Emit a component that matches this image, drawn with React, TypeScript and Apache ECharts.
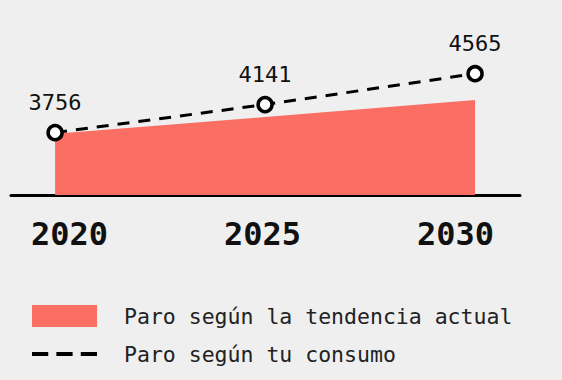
import React, { useEffect, useRef } from "react";
import * as echarts from "echarts";

const years = [2020, 2025, 2030];
const yearLabels = ["2020", "2025", "2030"];
const trendValues = [3740, 3970, 4205];
const consumoValues = [3756, 4141, 4565];
const seriesNames = ["Paro según la tendencia actual", "Paro según tu consumo"];

export default function App() {
  const ref = useRef<HTMLDivElement>(null);
  useEffect(() => {
    if (!ref.current) return;
    const chart = echarts.init(ref.current, null, { renderer: "svg" });
    const mono = "'DejaVu Sans Mono', monospace";
    chart.setOption({
      animation: false,
      backgroundColor: "#efefef",
      grid: [
        { left: 11, right: 42, top: 42, bottom: 185 },
        { left: 69.5, right: 106.5, top: 42, bottom: 185 },
      ],
      xAxis: [
        {
          type: "value",
          gridIndex: 0,
          min: 2018.95,
          max: 2031.07,
          axisLine: { show: true, onZero: false, lineStyle: { color: "#000", width: 3 } },
          axisTick: { show: false },
          axisLabel: { show: false },
          splitLine: { show: false },
        },
        {
          type: "category",
          gridIndex: 1,
          data: yearLabels,
          boundaryGap: false,
          axisLine: { show: false },
          axisTick: { show: false },
          axisLabel: {
            margin: 23,
            fontFamily: mono,
            fontWeight: "bold",
            fontSize: 32,
            color: "#111",
          },
        },
      ],
      yAxis: [
        { type: "value", gridIndex: 0, min: 2900, max: 5000, show: false },
        { type: "value", gridIndex: 1, min: 2900, max: 5000, show: false },
      ],
      legend: {
        orient: "vertical",
        left: 27,
        top: 300,
        itemWidth: 65,
        itemHeight: 22,
        itemGap: 16,
        selectedMode: false,
        textStyle: { fontFamily: mono, fontSize: 21.5, color: "#222", padding: [0, 0, 0, 22] },
        data: [
          { name: seriesNames[0], icon: "rect" },
          {
            name: seriesNames[1],
            icon: "path://M0,9h16v4H0z M24,9h16v4H24z M48,9h16v4H48z",
            itemStyle: { color: "#000", borderWidth: 0 },
            lineStyle: { width: 0, opacity: 0 },
          },
        ],
      },
      series: [
        {
          name: seriesNames[0],
          type: "line",
          xAxisIndex: 0,
          yAxisIndex: 0,
          color: "#fb6e64",
          symbol: "none",
          lineStyle: { width: 0 },
          areaStyle: { color: "#fb6e64", opacity: 1, origin: "start" },
          data: years.map((y, i) => [y, trendValues[i]]),
          z: 1,
        },
        {
          name: seriesNames[1],
          type: "line",
          xAxisIndex: 0,
          yAxisIndex: 0,
          color: "#000",
          symbol: "circle",
          symbolSize: 14,
          itemStyle: { color: "#fff", borderColor: "#000", borderWidth: 3.5 },
          lineStyle: { color: "#000", width: 3, type: [12, 9] },
          label: {
            show: true,
            position: "top",
            distance: 10,
            fontFamily: mono,
            fontSize: 22,
            color: "#111",
            formatter: (p: any) => String(p.value[1]),
          },
          data: years.map((y, i) => [y, consumoValues[i]]),
          z: 3,
        },
      ],
    });
    return () => chart.dispose();
  }, []);
  return (
    <div
      ref={ref}
      style={{ position: "fixed", left: 0, top: 0, width: 562, height: 380, background: "#efefef" }}
    />
  );
}
